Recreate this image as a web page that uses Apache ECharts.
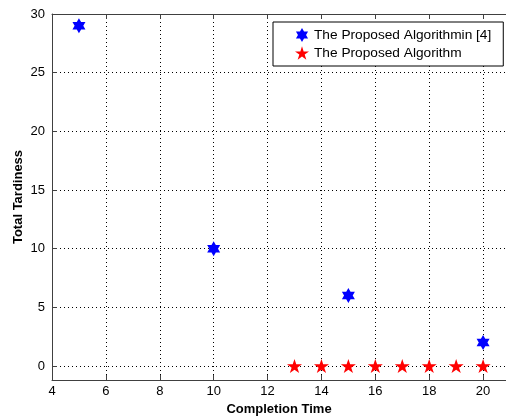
<!DOCTYPE html>
<html>
<head>
<meta charset="utf-8">
<script src="https://cdn.jsdelivr.net/npm/echarts@6/dist/echarts.min.js"></script>
<style>html,body{margin:0;padding:0;background:#fff;}#c{width:506px;height:416px;}</style>
</head>
<body>
<div id="c"></div>
<script>
var seriesNames = ['The Proposed Algorithmin [4]', 'The Proposed Algorithm'];
var refX = [5, 10, 15, 20];
var refY = [29, 10, 6, 2];
var propX = [13, 14, 15, 16, 17, 18, 19, 20];
var propY = [0, 0, 0, 0, 0, 0, 0, 0];
var xTicks = [4, 6, 8, 10, 12, 14, 16, 18, 20];
var yTicks = [0, 5, 10, 15, 20, 25, 30];

var hexagram = 'path://M0,-100 L28.87,-50 L86.6,-50 L57.7,0 L86.6,50 L28.87,50 L0,100 L-28.87,50 L-86.6,50 L-57.7,0 L-86.6,-50 L-28.87,-50 Z';
var pentagram = 'path://M0,-100 L22.45,-30.9 L95.1,-30.9 L36.3,11.8 L58.8,80.9 L0,38.2 L-58.8,80.9 L-36.3,11.8 L-95.1,-30.9 L-22.45,-30.9 Z';

function pairs(xs, ys) { return xs.map(function (x, i) { return [x, ys[i]]; }); }

var xMin = 4, xMax = 20.85;
var axisColor = '#404040';
var font = 'Liberation Sans, Arial, sans-serif';
var dotted = {color: '#000', type: [1, 3], width: 1};
var tick = {show: true, inside: true, length: 5, lineStyle: {color: axisColor}};
var chart = echarts.init(document.getElementById('c'), null, {renderer: 'canvas'});
chart.setOption({
  animation: false,
  backgroundColor: '#fff',
  textStyle: {fontFamily: font},
  grid: [
    {left: 52, top: 14, right: 0, bottom: 36, containLabel: false, outerBoundsMode: 'none'},
    {left: 52, top: 14, right: 0, bottom: 50, containLabel: false, outerBoundsMode: 'none'}
  ],
  legend: {
    orient: 'vertical', left: 273, top: 22, z: 10,
    backgroundColor: '#fff', borderColor: '#000', borderWidth: 1,
    padding: [6, 12, 6, 22], itemGap: 4, itemWidth: 14, itemHeight: 14,
    textStyle: {fontSize: 13.7, color: '#000', fontFamily: font},
    data: [
      {name: seriesNames[0], icon: hexagram},
      {name: seriesNames[1], icon: pentagram}
    ]
  },
  xAxis: [{
    gridIndex: 0, type: 'value', min: xMin, max: xMax, interval: 2,
    name: 'Completion Time', nameLocation: 'middle', nameGap: 22,
    nameTextStyle: {fontWeight: 'bold', fontSize: 13, color: '#000'},
    axisLine: {show: true, onZero: false, lineStyle: {color: axisColor, width: 1}},
    axisTick: tick,
    axisLabel: {fontSize: 13, color: '#000', margin: 5, showMaxLabel: false,
      formatter: function (v) { return xTicks.indexOf(v) >= 0 ? String(v) : ''; }},
    splitLine: {show: true, showMaxLine: false, lineStyle: dotted}
  }, {
    gridIndex: 0, type: 'value', position: 'top', min: xMin, max: xMax, interval: 2,
    axisLine: {show: true, onZero: false, lineStyle: {color: axisColor, width: 1}},
    axisTick: tick, axisLabel: {show: false}, splitLine: {show: false}
  }, {
    gridIndex: 1, type: 'value', min: xMin, max: xMax, show: false,
    axisLine: {show: false, onZero: false}
  }],
  yAxis: [{
    gridIndex: 0, type: 'value', min: -1.2, max: 30,
    name: 'Total Tardiness', nameLocation: 'middle', nameGap: 27, nameRotate: 90,
    nameTextStyle: {fontWeight: 'bold', fontSize: 13, color: '#000'},
    axisLine: {show: true, onZero: false, lineStyle: {color: axisColor, width: 1}},
    axisTick: {show: false}, axisLabel: {show: false}, splitLine: {show: false}
  }, {
    gridIndex: 1, type: 'value', min: 0, max: 30, interval: 5,
    axisLine: {show: false, onZero: false},
    axisTick: tick,
    axisLabel: {fontSize: 13, color: '#000', margin: 7,
      formatter: function (v) { return yTicks.indexOf(v) >= 0 ? String(v) : ''; }},
    splitLine: {show: true, lineStyle: dotted}
  }],
  series: [{
    name: seriesNames[0], type: 'scatter', xAxisIndex: 2, yAxisIndex: 1, data: pairs(refX, refY),
    symbol: hexagram, symbolSize: [13, 15], symbolKeepAspect: false,
    itemStyle: {color: '#0000ff', opacity: 1}, clip: false
  }, {
    name: seriesNames[1], type: 'scatter', xAxisIndex: 2, yAxisIndex: 1, data: pairs(propX, propY),
    symbol: pentagram, symbolSize: [15, 14], symbolKeepAspect: false,
    itemStyle: {color: '#ff0000', opacity: 1}, clip: false
  }]
});
</script>
</body>
</html>
